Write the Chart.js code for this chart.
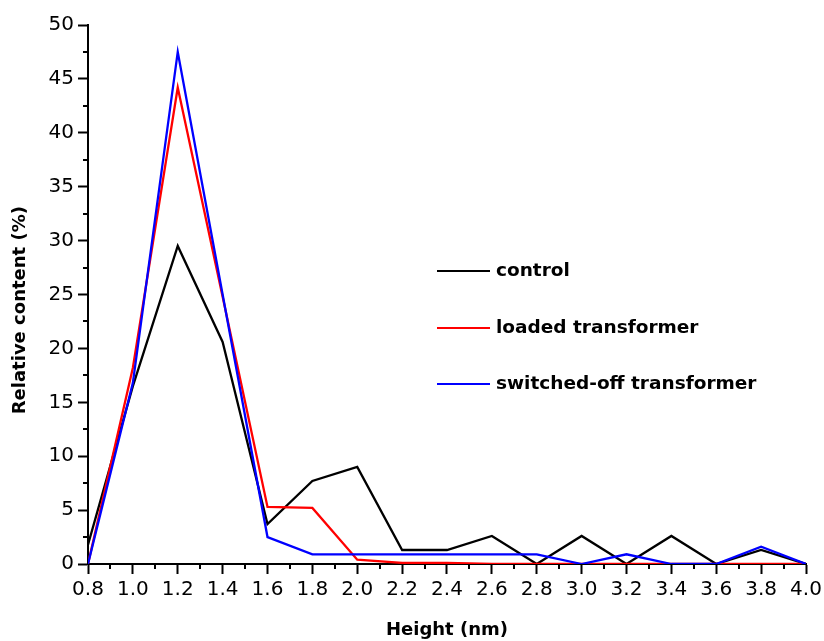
<!DOCTYPE html>
<html>
<head>
<meta charset="utf-8">
<script src="https://cdn.jsdelivr.net/npm/chart.js@4"></script>
<style>
  html, body { margin: 0; padding: 0; background: #fff; }
  #wrap { width: 824px; height: 641px; }
</style>
</head>
<body>
<div id="wrap"><canvas id="chart" width="824" height="641"></canvas></div>
<script>
// data
var heights = [0.8, 1.0, 1.2, 1.4, 1.6, 1.8, 2.0, 2.2, 2.4, 2.6, 2.8, 3.0, 3.2, 3.4, 3.6, 3.8, 4.0];
var control = [1.8, 16.5, 29.5, 20.6, 3.7, 7.7, 9.0, 1.3, 1.3, 2.6, 0, 2.6, 0, 2.6, 0, 1.3, 0];
var loaded = [0, 18.2, 44.2, 24.8, 5.3, 5.2, 0.4, 0.1, 0.1, 0, 0, 0, 0, 0, 0, 0, 0];
var switchedOff = [0, 16.8, 47.5, 25.0, 2.5, 0.9, 0.9, 0.9, 0.9, 0.9, 0.9, 0, 0.9, 0, 0, 1.6, 0];

var seriesNames = ["control", "loaded transformer", "switched-off transformer"];
var seriesColors = ["#000000", "#ff0000", "#0000ff"];

function points(vals) {
    return heights.map(function(h, i) { return { x: h, y: vals[i] }; });
}

var FONT = "'DejaVu Sans', sans-serif";

//--------------------------------------------------------------------
// * minor ticks + legend inside the plot
//--------------------------------------------------------------------
var extras = {
    id: 'extras',
    afterDraw: function(chart) {
        var ctx = chart.ctx;
        var xs = chart.scales.x, ys = chart.scales.y;
        ctx.save();
        ctx.strokeStyle = '#000';
        ctx.lineWidth = 2;
        ctx.beginPath();
        for (var v = 0.9; v < 4.0; v += 0.2) {
            var px = Math.round(xs.getPixelForValue(v));
            ctx.moveTo(px, ys.bottom);
            ctx.lineTo(px, ys.bottom + 5);
        }
        for (var w = 2.5; w < 50; w += 5) {
            var py = Math.round(ys.getPixelForValue(w));
            ctx.moveTo(xs.left, py);
            ctx.lineTo(xs.left - 5, py);
        }
        ctx.stroke();

        // legend
        var lx = 437, ly = [271, 328, 384];
        ctx.font = 'bold 18.5px ' + FONT;
        ctx.textBaseline = 'middle';
        ctx.fillStyle = '#000';
        for (var i = 0; i < seriesNames.length; i++) {
            ctx.strokeStyle = seriesColors[i];
            ctx.beginPath();
            ctx.moveTo(lx, ly[i]);
            ctx.lineTo(lx + 53, ly[i]);
            ctx.stroke();
            ctx.fillText(seriesNames[i], lx + 59, ly[i]);
        }
        ctx.restore();
    }
};

function makeChart() {
    var ctx = document.getElementById('chart').getContext('2d');
    var sets = [control, loaded, switchedOff].map(function(vals, i) {
        return {
            label: seriesNames[i],
            data: points(vals),
            borderColor: seriesColors[i],
            backgroundColor: seriesColors[i],
            borderWidth: 2.3,
            pointRadius: 0,
            tension: 0,
            order: 2 - i
        };
    });
    new Chart(ctx, {
        type: 'line',
        data: { datasets: sets },
        options: {
            responsive: false,
            animation: false,
            layout: { padding: { top: 25, right: 18, left: 0, bottom: 0 } },
            plugins: { legend: { display: false }, tooltip: { enabled: false } },
            scales: {
                x: {
                    type: 'linear',
                    min: 0.8,
                    max: 4.0,
                    afterFit: function(s) { s.height = 77; s.paddingRight = 0; s.paddingLeft = 0; },
                    ticks: {
                        stepSize: 0.2,
                        color: '#000',
                        padding: 4,
                        font: { family: FONT, size: 20 },
                        callback: function(v) { return v.toFixed(1); }
                    },
                    grid: { drawOnChartArea: false, tickLength: 10, tickWidth: 2, tickColor: '#000' },
                    border: { color: '#000', width: 2 },
                    title: {
                        display: true,
                        text: 'Height (nm)',
                        color: '#000',
                        font: { family: FONT, size: 18, weight: 'bold' },
                        padding: { top: 0, bottom: 0 }
                    }
                },
                y: {
                    min: 0,
                    max: 50,
                    afterFit: function(s) { s.width = 88; },
                    ticks: {
                        stepSize: 5,
                        color: '#000',
                        padding: 4,
                        font: { family: FONT, size: 20 }
                    },
                    grid: { drawOnChartArea: false, tickLength: 10, tickWidth: 2, tickColor: '#000' },
                    border: { color: '#000', width: 2 },
                    title: {
                        display: true,
                        text: 'Relative content (%)     ',
                        color: '#000',
                        font: { family: FONT, size: 18, weight: 'bold' },
                        padding: { top: 10, bottom: 0 }
                    }
                }
            }
        },
        plugins: [extras]
    });
}

makeChart();
</script>
</body>
</html>
